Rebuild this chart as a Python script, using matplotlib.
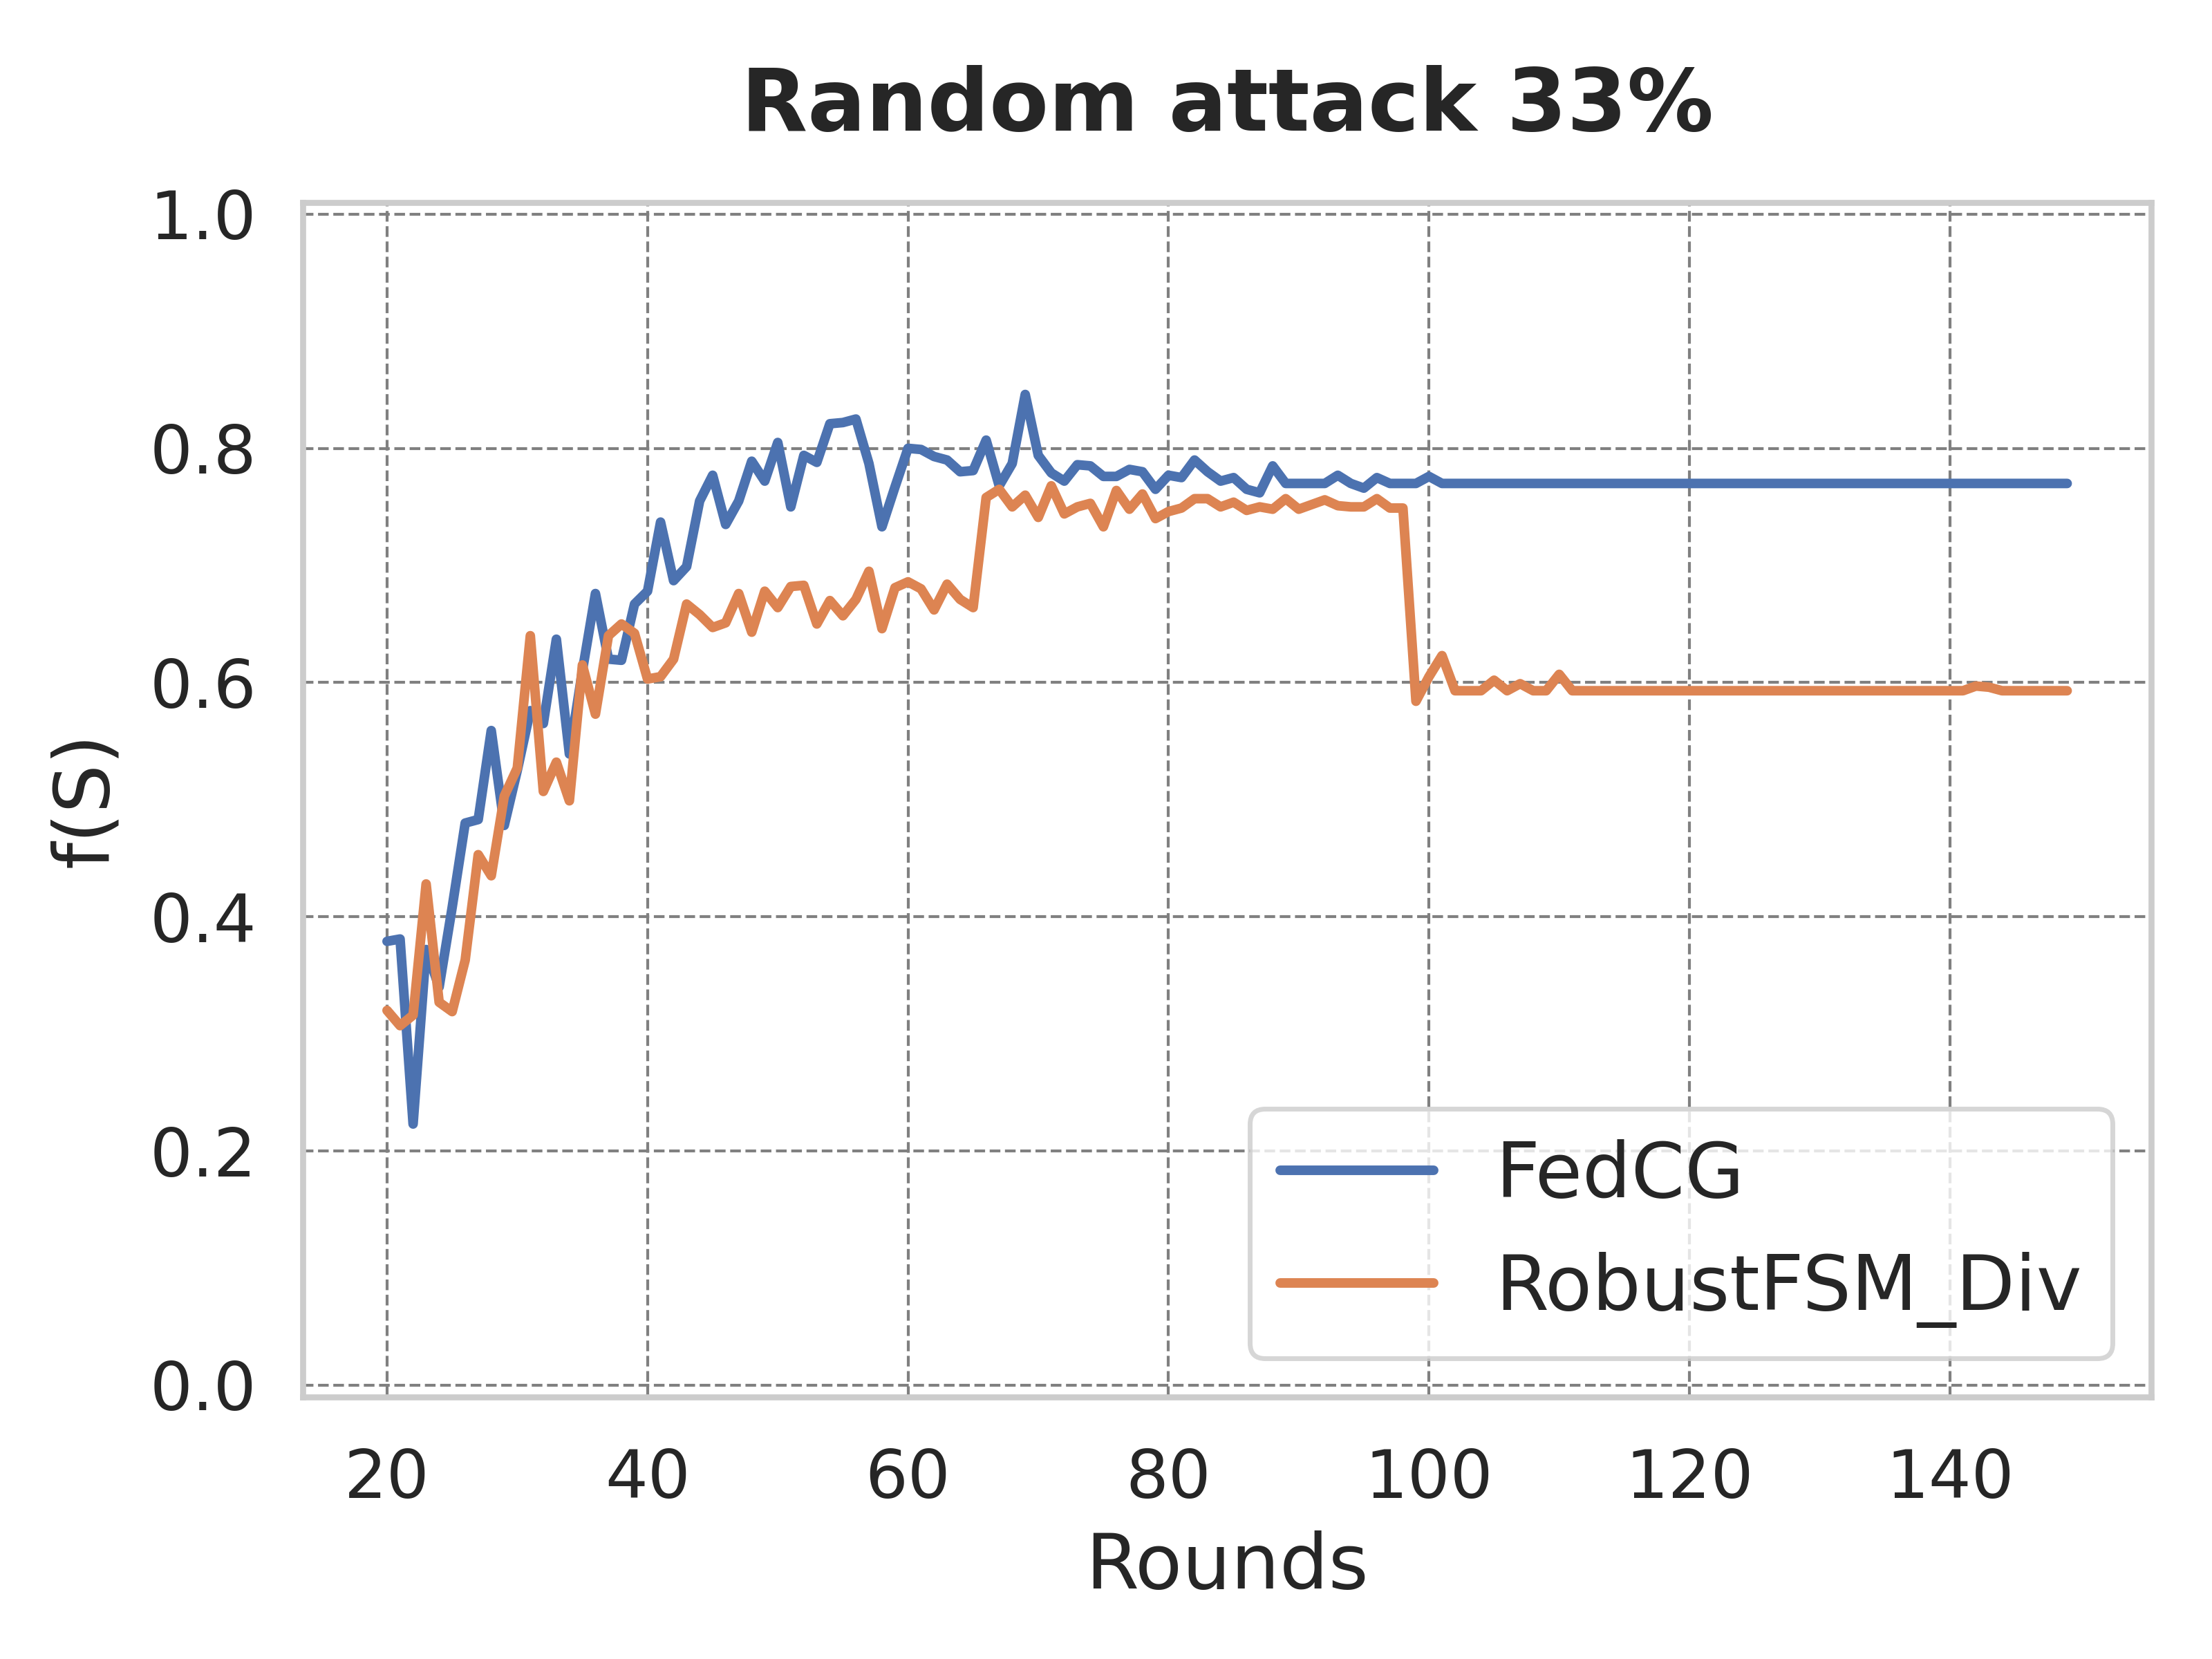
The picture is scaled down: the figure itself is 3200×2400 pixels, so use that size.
import matplotlib
matplotlib.use("Agg")
import matplotlib.pyplot as plt
import seaborn as sns
import numpy as np

# f(S) per round (rounds 20..149)
rounds = np.arange(20, 150)

fedcg = [
    0.379, 0.381, 0.223, 0.372, 0.340, 0.408, 0.480, 0.483, 0.559, 0.478,  # 20-29
    0.525, 0.576, 0.565, 0.637, 0.539, 0.610, 0.676, 0.620, 0.619, 0.667,  # 30-39
    0.678, 0.737, 0.687, 0.699, 0.755, 0.777, 0.735, 0.755, 0.789, 0.772,  # 40-49
    0.805, 0.750, 0.794, 0.788, 0.821, 0.822, 0.825, 0.787, 0.733, 0.767,  # 50-59
    0.800, 0.799, 0.793, 0.790, 0.780, 0.781, 0.807, 0.768, 0.787, 0.846,  # 60-69
    0.794, 0.779, 0.772, 0.786, 0.785, 0.776, 0.776, 0.782, 0.780, 0.765,  # 70-79
    0.777, 0.775, 0.790, 0.780, 0.772, 0.775, 0.765, 0.762, 0.785, 0.770,  # 80-89
    0.770, 0.770, 0.770, 0.777, 0.770, 0.766, 0.775, 0.770, 0.770, 0.770,  # 90-99
    0.776, 0.770, 0.770, 0.770, 0.770, 0.770, 0.770, 0.770, 0.770, 0.770,  # 100-109
    0.770, 0.770, 0.770, 0.770, 0.770, 0.770, 0.770, 0.770, 0.770, 0.770,  # 110-119
    0.770, 0.770, 0.770, 0.770, 0.770, 0.770, 0.770, 0.770, 0.770, 0.770,  # 120-129
    0.770, 0.770, 0.770, 0.770, 0.770, 0.770, 0.770, 0.770, 0.770, 0.770,  # 130-139
    0.770, 0.770, 0.770, 0.770, 0.770, 0.770, 0.770, 0.770, 0.770, 0.770,  # 140-149
]

robust_div = [
    0.320, 0.307, 0.316, 0.428, 0.327, 0.319, 0.363, 0.453, 0.435, 0.503,  # 20-29
    0.527, 0.640, 0.507, 0.532, 0.499, 0.615, 0.573, 0.640, 0.650, 0.642,  # 30-39
    0.603, 0.605, 0.620, 0.667, 0.658, 0.647, 0.651, 0.676, 0.643, 0.678,  # 40-49
    0.664, 0.682, 0.683, 0.650, 0.670, 0.657, 0.671, 0.695, 0.646, 0.681,  # 50-59
    0.686, 0.680, 0.662, 0.684, 0.671, 0.664, 0.758, 0.765, 0.750, 0.760,  # 60-69
    0.741, 0.768, 0.744, 0.750, 0.753, 0.733, 0.764, 0.748, 0.761, 0.740,  # 70-79
    0.746, 0.749, 0.757, 0.757, 0.750, 0.754, 0.747, 0.750, 0.748, 0.757,  # 80-89
    0.748, 0.752, 0.756, 0.751, 0.750, 0.750, 0.757, 0.749, 0.749, 0.584,  # 90-99
    0.605, 0.623, 0.593, 0.593, 0.593, 0.602, 0.593, 0.599, 0.593, 0.593,  # 100-109
    0.607, 0.593, 0.593, 0.593, 0.593, 0.593, 0.593, 0.593, 0.593, 0.593,  # 110-119
    0.593, 0.593, 0.593, 0.593, 0.593, 0.593, 0.593, 0.593, 0.593, 0.593,  # 120-129
    0.593, 0.593, 0.593, 0.593, 0.593, 0.593, 0.593, 0.593, 0.593, 0.593,  # 130-139
    0.593, 0.593, 0.597, 0.596, 0.593, 0.593, 0.593, 0.593, 0.593, 0.593,  # 140-149
]

labels = ["FedCG", "RobustFSM_Div"]
colors = ["#4C72B0", "#DD8452"]

sns.set_theme(style="whitegrid")
plt.rcParams['font.family'] = ['DejaVu Sans']

fig, ax = plt.subplots(figsize=(6.4, 4.8), dpi=500)
fig.subplots_adjust(left=0.137, right=0.9725, top=0.878, bottom=0.158)

ax.plot(rounds, fedcg, color=colors[0], lw=2.0, label=labels[0])
ax.plot(rounds, robust_div, color=colors[1], lw=2.0, label=labels[1])

ax.set_ylim(-0.01, 1.01)
ax.set_yticks([0.0, 0.2, 0.4, 0.6, 0.8, 1.0])
ax.grid(True, color="gray", linestyle="--", linewidth=0.6)
ax.tick_params(axis="x", labelsize=14, pad=4.5)
ax.tick_params(axis="y", labelsize=14, pad=3.7)

ax.set_title("Random attack 33%", fontsize=18, fontweight="bold", pad=15)
ax.set_xlabel("Rounds", fontsize=16)
ax.set_ylabel("f(S)", fontsize=16, labelpad=5.5)
ax.legend(loc="lower right", fontsize=16)

fig.savefig("out.png", dpi=500)
